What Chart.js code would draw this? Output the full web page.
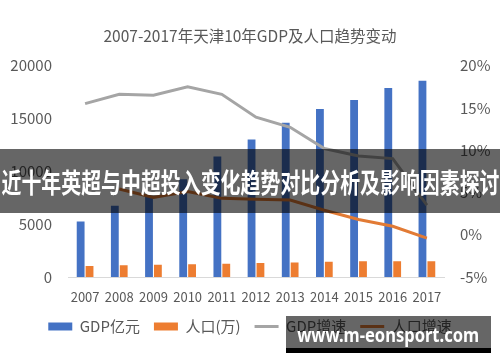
<!DOCTYPE html>
<html>
<head>
<meta charset="utf-8">
<script src="https://cdn.jsdelivr.net/npm/chart.js@4"></script>
<style>
  html, body { margin: 0; padding: 0; background: #fff; }
  #wrap { position: relative; width: 500px; height: 362px; overflow: hidden; }
  canvas { position: absolute; left: 0; top: 0; }
  #banner { position: absolute; left: 0; top: 149px; width: 500px; height: 64px; background: rgba(0,0,0,0.6);
            display: flex; align-items: center; justify-content: center; overflow: hidden; }
  #banner span { display: inline-block; white-space: nowrap; color: #fff; font: bold 27px "Noto Sans CJK SC", sans-serif;
                 transform-origin: center center; }
  #wm { position: absolute; left: 286px; top: 316px; width: 205px; height: 32px; background: rgba(0,0,0,0.6);
        display: flex; align-items: center; justify-content: center; overflow: hidden; }
  #wmbar { position: absolute; left: 286px; top: 348px; width: 205px; height: 5px; background: #000; }
  #wm span { display: inline-block; white-space: nowrap; color: #fff; font: bold 20px "Noto Sans", sans-serif;
             transform-origin: center center; position: relative; top: 2px; }
</style>
</head>
<body>
<div id="wrap">
  <canvas id="c" width="500" height="362"></canvas>
  <div id="banner"><span id="bt">近十年英超与中超投入变化趋势对比分析及影响因素探讨</span></div>
  <div id="wm"><span id="wt">www.m-eonsport.com</span></div>
  <div id="wmbar"></div>
</div>
<script>
const years = ['2007','2008','2009','2010','2011','2012','2013','2014','2015','2016','2017'];
const gdp = [5250, 6730, 7600, 9250, 11400, 13000, 14600, 15900, 16750, 17880, 18560];
const population = [1050, 1120, 1160, 1200, 1260, 1320, 1380, 1440, 1490, 1500, 1500];
const gdpGrowth = [15.5, 16.6, 16.5, 17.5, 16.6, 13.9, 12.7, 10.2, 9.3, 9.0, 3.5];
const popGrowth = [null, 5.4, 4.4, 5.1, 4.3, 4.2, 4.1, 2.9, 1.8, 1.0, -0.4];
const leftTicks = [0, 5000, 10000, 15000, 20000];
const rightTicks = [-5, 0, 5, 10, 15, 20];

const txt = '#595959';
const base = '"Noto Sans CJK SC", "Noto Sans", sans-serif';

new Chart(document.getElementById('c'), {
  data: {
    labels: years,
    datasets: [
      { type: 'bar', label: 'GDP亿元', data: gdp, backgroundColor: '#4472C4', yAxisID: 'y', order: 1,
        categoryPercentage: 0.52, barPercentage: 0.88 },
      { type: 'bar', label: '人口(万)', data: population, backgroundColor: '#ED7D31', yAxisID: 'y', order: 1,
        categoryPercentage: 0.52, barPercentage: 0.88 },
      { type: 'line', label: 'GDP增速', data: gdpGrowth, borderColor: '#A5A5A5', backgroundColor: '#A5A5A5',
        borderWidth: 3, pointRadius: 0, tension: 0, yAxisID: 'y1', order: 0 },
      { type: 'line', label: '人口增速', data: popGrowth, borderColor: '#E27B35', backgroundColor: '#E27B35',
        borderWidth: 3, pointRadius: 0, tension: 0, yAxisID: 'y1', order: 0 }
    ]
  },
  options: {
    responsive: false,
    animation: false,
    layout: { padding: { left: 0, right: 0, top: 0, bottom: 18 } },
    plugins: {
      tooltip: { enabled: false },
      title: { display: true, text: '2007-2017年天津10年GDP及人口趋势变动', color: txt,
               font: { family: base, size: 15.5, weight: 'normal' }, padding: { top: 27, bottom: 20 } },
      legend: {
        position: 'bottom',
        labels: {
          color: txt, font: { family: base, size: 15 }, padding: 14,
          usePointStyle: true, pointStyleWidth: 24, boxWidth: 24, boxHeight: 8,
          sort: (a, b) => a.datasetIndex - b.datasetIndex,
          generateLabels(chart) {
            const items = Chart.defaults.plugins.legend.labels.generateLabels(chart);
            items.forEach(it => {
              const ds = chart.data.datasets[it.datasetIndex];
              if (ds.type === 'line') { it.pointStyle = 'line'; it.lineWidth = 3; it.strokeStyle = ds.borderColor; }
              else { it.pointStyle = 'rect'; it.lineWidth = 0; }
            });
            return items;
          }
        }
      }
    },
    scales: {
      x: {
        grid: { display: false, drawTicks: false },
        border: { display: true, color: '#D9D9D9', width: 1 },
        afterFit(s) { s.height = 28; },
        ticks: { color: txt, font: { family: base, size: 13 }, padding: 12, maxRotation: 0, autoSkip: false }
      },
      y: {
        position: 'left', min: 0, max: 20000,
        afterBuildTicks(s) { s.ticks = leftTicks.map(v => ({ value: v })); },
        afterFit(s) { s.width = 68; },
        grid: { display: false, drawTicks: false },
        border: { display: false },
        ticks: { color: txt, font: { family: base, size: 15 }, padding: 16, callback: v => String(v) }
      },
      y1: {
        position: 'right', min: -5, max: 20,
        afterBuildTicks(s) { s.ticks = rightTicks.map(v => ({ value: v })); },
        afterFit(s) { s.width = 56; },
        grid: { display: false, drawTicks: false },
        border: { display: false },
        ticks: { color: txt, font: { family: base, size: 15 }, padding: 16, callback: v => v + '%' }
      }
    }
  }
});

function fit(id, w) {
  const el = document.getElementById(id);
  const cw = el.getBoundingClientRect().width;
  el.style.transform = 'scaleX(' + (w / cw) + ')';
}
fit('bt', 498);
fit('wt', 182);
</script>
</body>
</html>
